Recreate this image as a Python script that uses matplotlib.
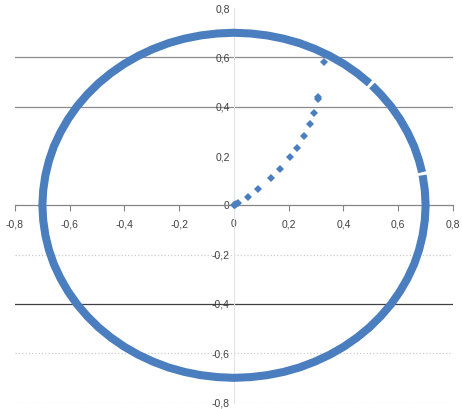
import matplotlib
matplotlib.use("Agg")
import matplotlib.pyplot as plt

# dados: trajetoria que sai da origem
traj_x = [0.000, 0.004, 0.008, 0.013, 0.050, 0.089, 0.135, 0.169, 0.205,
          0.230, 0.256, 0.277, 0.294, 0.306, 0.308, 0.327]
traj_y = [0.000, 0.003, 0.007, 0.010, 0.034, 0.066, 0.111, 0.148, 0.197,
          0.234, 0.281, 0.331, 0.376, 0.433, 0.441, 0.583]

# ciclo limite (raio ~0.7), arco principal
arco1_x = [0.495, 0.450, 0.402, 0.350, 0.296, 0.239, 0.181, 0.122, 0.061, 0.000,
           -0.061, -0.122, -0.181, -0.239, -0.296, -0.350, -0.402, -0.450, -0.495,
           -0.536, -0.573, -0.606, -0.634, -0.658, -0.676, -0.689, -0.697, -0.700,
           -0.697, -0.689, -0.676, -0.658, -0.634, -0.606, -0.573, -0.536, -0.495,
           -0.450, -0.402, -0.350, -0.296, -0.239, -0.181, -0.122, -0.061, 0.000,
           0.061, 0.122, 0.181, 0.239, 0.296, 0.350, 0.402, 0.450, 0.495,
           0.536, 0.573, 0.606, 0.634, 0.658, 0.676, 0.689, 0.697, 0.700,
           0.697, 0.689]
arco1_y = [0.495, 0.536, 0.573, 0.606, 0.634, 0.658, 0.676, 0.689, 0.697, 0.700,
           0.697, 0.689, 0.676, 0.658, 0.634, 0.606, 0.573, 0.536, 0.495,
           0.450, 0.402, 0.350, 0.296, 0.239, 0.181, 0.122, 0.061, 0.000,
           -0.061, -0.122, -0.181, -0.239, -0.296, -0.350, -0.402, -0.450, -0.495,
           -0.536, -0.573, -0.606, -0.634, -0.658, -0.676, -0.689, -0.697, -0.700,
           -0.697, -0.689, -0.676, -0.658, -0.634, -0.606, -0.573, -0.536, -0.495,
           -0.450, -0.402, -0.350, -0.296, -0.239, -0.181, -0.122, -0.061, 0.000,
           0.061, 0.122]

# pedaco curto do ciclo
arco2_x = [0.687, 0.676, 0.658, 0.634, 0.606, 0.573, 0.536, 0.504]
arco2_y = [0.134, 0.181, 0.239, 0.296, 0.350, 0.402, 0.450, 0.486]

ticks = [-0.8, -0.6, -0.4, -0.2, 0, 0.2, 0.4, 0.6, 0.8]
tick_labels = ["-0,8", "-0,6", "-0,4", "-0,2", "0", "0,2", "0,4", "0,6", "0,8"]

azul = "#4a7ebf"

fig = plt.figure(figsize=(4.62, 4.09), dpi=100)
ax = fig.add_axes([15 / 462, 6.5 / 409, 438 / 462, 394.4 / 409])
ax.set_xlim(-0.8, 0.8)
ax.set_ylim(-0.8, 0.8)

# linhas de grade (cores como no excel)
grade = {0.6: ("#8c8c8c", "-"), 0.4: ("#8c8c8c", "-"), -0.4: ("#404040", "-"),
         -0.2: ("#cccccc", ":"), -0.6: ("#cccccc", ":"), -0.8: ("#cccccc", ":")}
for yv, (cor, est) in grade.items():
    ax.axhline(yv, color=cor, lw=0.9, ls=est, zorder=1)

for s in ["top", "right"]:
    ax.spines[s].set_visible(False)
ax.spines["left"].set_position(("data", 0))
ax.spines["bottom"].set_position(("data", 0))
ax.spines["left"].set_color("#dde4ec")
ax.spines["bottom"].set_color("#868686")
ax.spines["bottom"].set_linewidth(0.9)

ax.set_xticks(ticks)
ax.set_xticklabels(tick_labels)
ax.set_yticks(ticks)
ax.set_yticklabels(tick_labels)
ax.tick_params(axis="x", direction="out", length=4, color="#868686", pad=6,
               labelsize=7.5, labelcolor="#404040")
ax.tick_params(axis="y", length=0, pad=3, labelsize=7.5, labelcolor="#404040")
for t in ax.get_xticklabels() + ax.get_yticklabels():
    t.set_fontfamily("Liberation Sans")

ax.plot(arco1_x, arco1_y, color=azul, lw=5.8, solid_capstyle="butt", zorder=3)
ax.plot(arco2_x, arco2_y, color=azul, lw=5.8, solid_capstyle="butt", zorder=3)
ax.plot(traj_x, traj_y, "D", color=azul, ms=4.5, mew=0, zorder=4)

fig.savefig("out.png", dpi=100)
